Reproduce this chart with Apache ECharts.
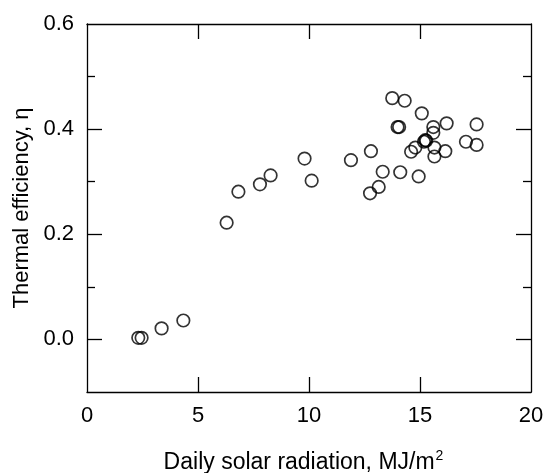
<!DOCTYPE html>
<html>
<head>
<meta charset="utf-8">
<script src="https://cdn.jsdelivr.net/npm/echarts@6/dist/echarts.min.js"></script>
<style>
html,body{margin:0;padding:0;background:#fff;}
#chart{width:545px;height:473px;}
</style>
</head>
<body>
<div id="chart"></div>
<script>
const radiation = [2.31, 2.46, 3.36, 4.34, 6.29, 6.82, 7.79, 8.27, 9.80, 10.12, 11.89, 12.79, 12.75, 13.14, 13.32, 13.75, 14.31, 13.99, 14.06, 14.11, 14.60, 14.79, 15.08, 14.94, 15.18, 15.24, 15.28, 15.60, 15.60, 15.65, 15.65, 16.14, 16.20, 17.07, 17.55, 17.55];
const efficiency = [0.003, 0.003, 0.021, 0.036, 0.222, 0.281, 0.295, 0.312, 0.344, 0.302, 0.341, 0.358, 0.278, 0.290, 0.319, 0.459, 0.454, 0.404, 0.404, 0.318, 0.357, 0.365, 0.430, 0.310, 0.376, 0.379, 0.378, 0.404, 0.393, 0.365, 0.348, 0.358, 0.411, 0.376, 0.370, 0.409];
const xTickValues = [5, 10, 15];
const xLabelValues = [0, 5, 10, 15, 20];
const yMajorTicks = [0, 0.2, 0.4];
const yMinorTicks = [0.1, 0.3, 0.5];
const yLabelValues = [0, 0.2, 0.4, 0.6];

const points = radiation.map((x, i) => [x, efficiency[i]]);
const FONT = 'Liberation Sans, Arial, sans-serif';
const lineStyle = {color: '#000', width: 1.3};

const chart = echarts.init(document.getElementById('chart'), null, {renderer: 'canvas'});
const yBase = {type: 'value', min: -0.1, max: 0.6, splitLine: {show: false}};
chart.setOption({
  animation: false,
  backgroundColor: '#fff',
  grid: {left: 87, right: 14, top: 24, bottom: 81, containLabel: false, outerBoundsMode: 'none'},
  xAxis: [
    {
      type: 'value', min: 0, max: 20, position: 'bottom',
      axisLine: {show: true, onZero: false, lineStyle: lineStyle},
      axisTick: {show: true, inside: true, length: 15, customValues: xTickValues, lineStyle: lineStyle},
      axisLabel: {customValues: xLabelValues, color: '#000', fontSize: 22, fontFamily: FONT, margin: 13},
      splitLine: {show: false},
      name: 'Daily solar radiation, MJ/m{sup|2}',
      nameLocation: 'middle', nameGap: 57,
      nameTextStyle: {color: '#000', fontSize: 23, fontFamily: FONT, padding: [0, 11, 0, 0],
        rich: {sup: {fontSize: 14, fontFamily: FONT, color: '#000', verticalAlign: 'top', padding: [0, 0, 14, 1]}}}
    },
    {
      type: 'value', min: 0, max: 20, position: 'top',
      axisLine: {show: true, onZero: false, lineStyle: lineStyle},
      axisTick: {show: true, inside: true, length: 15, customValues: xTickValues, lineStyle: lineStyle},
      axisLabel: {show: false}, splitLine: {show: false}
    }
  ],
  yAxis: [
    Object.assign({}, yBase, {
      position: 'left',
      axisLine: {show: true, onZero: false, lineStyle: lineStyle},
      axisTick: {show: true, inside: true, length: 15, customValues: yMajorTicks, lineStyle: lineStyle},
      axisLabel: {customValues: yLabelValues, color: '#000', fontSize: 22, fontFamily: FONT, margin: 13,
        formatter: v => v.toFixed(1)},
      name: 'Thermal efficiency, η', nameLocation: 'middle', nameGap: 54,
      nameTextStyle: {color: '#000', fontSize: 22, fontFamily: FONT}
    }),
    Object.assign({}, yBase, {
      position: 'left',
      axisLine: {show: false, onZero: false},
      axisTick: {show: true, inside: true, length: 8, customValues: yMinorTicks, lineStyle: lineStyle},
      axisLabel: {show: false}
    }),
    Object.assign({}, yBase, {
      position: 'right',
      axisLine: {show: true, onZero: false, lineStyle: lineStyle},
      axisTick: {show: true, inside: true, length: 15, customValues: yMajorTicks, lineStyle: lineStyle},
      axisLabel: {show: false}
    }),
    Object.assign({}, yBase, {
      position: 'right',
      axisLine: {show: false, onZero: false},
      axisTick: {show: true, inside: true, length: 8, customValues: yMinorTicks, lineStyle: lineStyle},
      axisLabel: {show: false}
    })
  ],
  series: [{
    type: 'scatter',
    xAxisIndex: 0, yAxisIndex: 0,
    data: points,
    symbol: 'circle', symbolSize: 12.5,
    itemStyle: {color: 'rgba(0,0,0,0)', borderColor: '#000', borderWidth: 1.7}
  }]
});
</script>
</body>
</html>
